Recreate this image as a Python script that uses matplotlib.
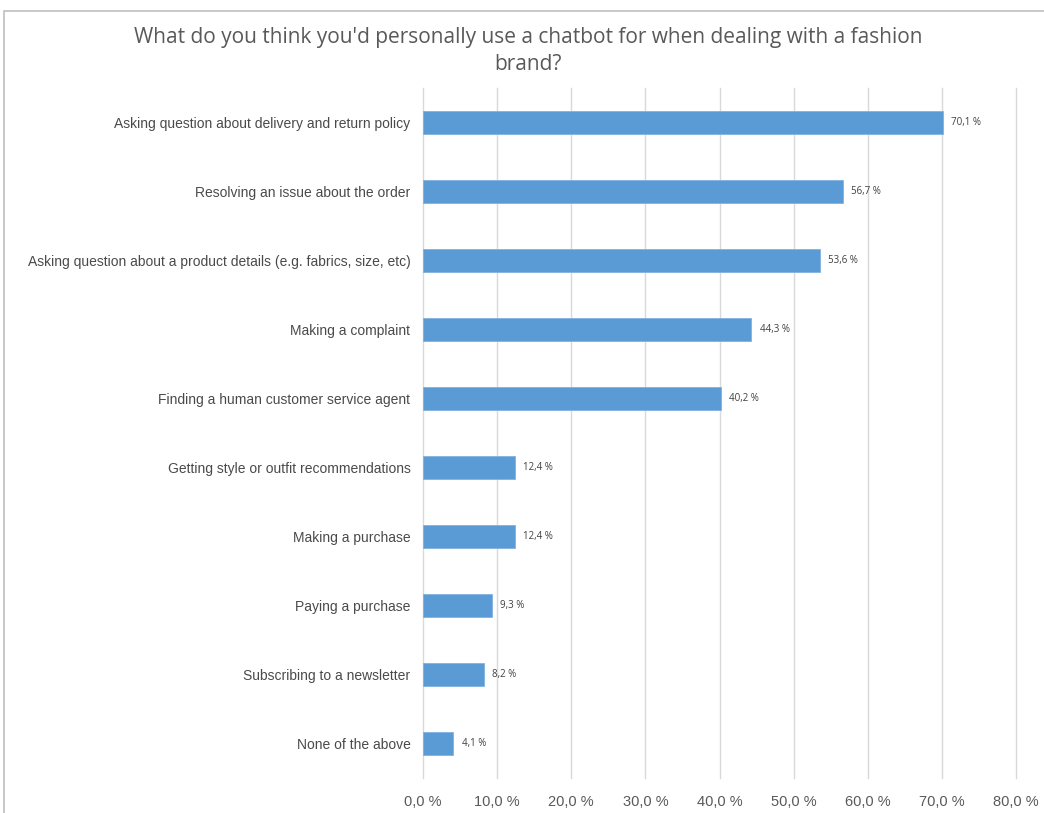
import matplotlib
matplotlib.use("Agg")
import matplotlib.pyplot as plt
from matplotlib.patches import Rectangle

categories = [
    "Asking question about delivery and return policy",
    "Resolving an issue about the order",
    "Asking question about a product details (e.g. fabrics, size, etc)",
    "Making a complaint",
    "Finding a human customer service agent",
    "Getting style or outfit recommendations",
    "Making a purchase",
    "Paying a purchase",
    "Subscribing to a newsletter",
    "None of the above",
]
values = [70.1, 56.7, 53.6, 44.3, 40.2, 12.4, 12.4, 9.3, 8.2, 4.1]
x_ticks = [0, 10, 20, 30, 40, 50, 60, 70, 80]
title = "What do you think you'd personally use a chatbot for when dealing with a fashion\nbrand?"

W, H = 1044, 813
fig = plt.figure(figsize=(W / 100, H / 100), dpi=100)
fig.patch.set_facecolor("white")

# chart-area border
fig.add_artist(Rectangle((4 / W, -0.05), 1.1, 1 - 11 / H + 0.05, transform=fig.transFigure,
                         fill=False, edgecolor="#BFBFBF", linewidth=1.2))

ax = fig.add_axes([423 / W, 1 - 778 / H, (1016 - 423) / W, (778 - 88) / H])
ypos = list(range(len(categories)))
ax.barh(ypos, values, height=0.34, color="#5B9BD5", edgecolor="#7FB2E0", linewidth=0.6, zorder=3)
ax.set_ylim(len(categories) - 0.5, -0.5)
ax.set_xlim(0, 80)
ax.set_xticks(x_ticks)
ax.set_xticklabels([f"{t:.1f} %".replace(".", ",") for t in x_ticks],
                   fontsize=10.5, color="#595959", family="Liberation Sans")
ax.set_yticks(ypos)
ax.set_yticklabels(categories, fontsize=10, color="#4A4A4A", family="Liberation Sans")
ax.tick_params(axis="x", length=0, pad=12)
ax.tick_params(axis="y", length=0, pad=9)
for t in x_ticks:
    ax.axvline(t, color="#D9D9D9", linewidth=1, zorder=0, clip_on=False)
for s in ax.spines.values():
    s.set_visible(False)

for y, v in zip(ypos, values):
    ax.text(v + 1.1, y, f"{v:.1f} %".replace(".", ","), va="center", ha="left",
            fontsize=7, color="#404040", family="Open Sans")

fig.text(528 / W, 1 - 51 / H, title, ha="center", va="center", fontsize=15,
         color="#595959", family="Open Sans", linespacing=1.38)

fig.savefig("out.png", dpi=100, facecolor="white")
